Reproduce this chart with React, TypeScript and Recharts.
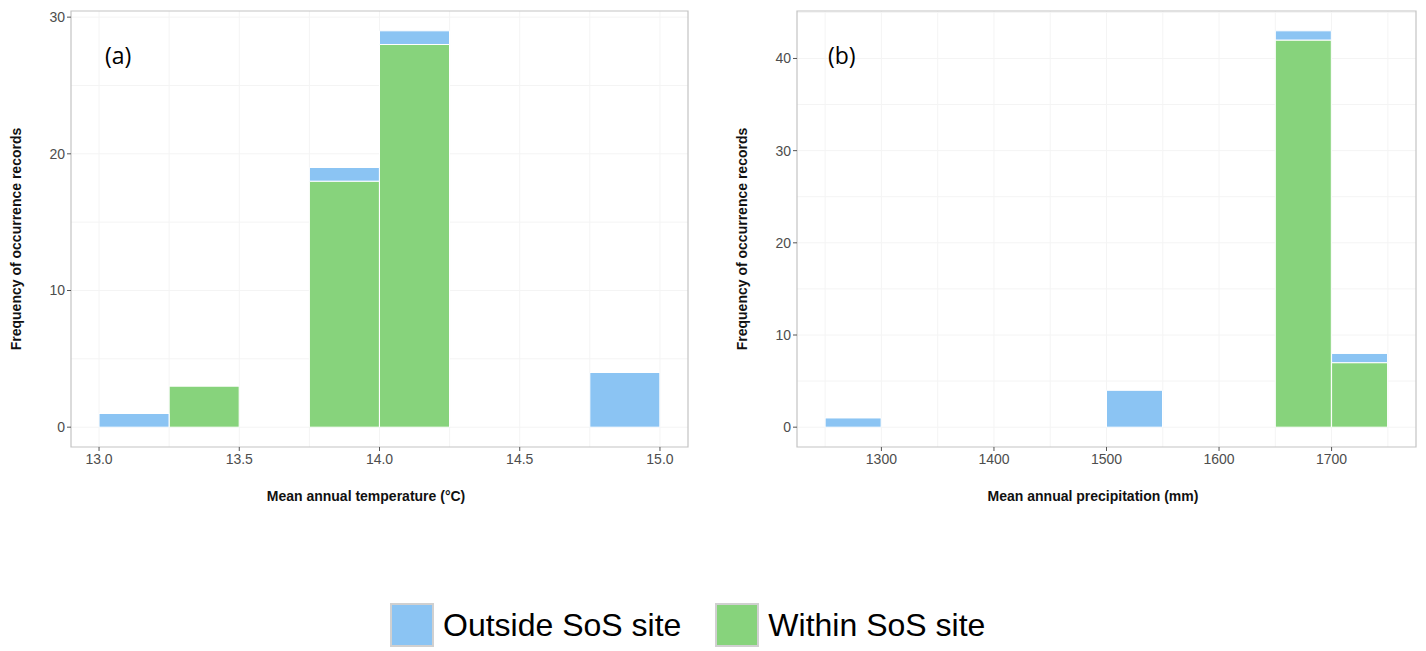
import * as React from 'react'
import { BarChart, Bar, XAxis, YAxis, CartesianGrid, ReferenceArea } from 'recharts'

// (a) temperature histogram, bin width 0.25 °C, values at bin centres
const tempBins = [13.125, 13.375, 13.625, 13.875, 14.125, 14.375, 14.625, 14.875]
const tempWithin = [0, 3, 0, 18, 28, 0, 0, 0]
const tempOutside = [1, 0, 0, 1, 1, 0, 0, 4]
const tempTicks = [13, 13.5, 14, 14.5, 15]
const tempCountTicks = [0, 10, 20, 30]

// (b) precipitation histogram, bin width 50 mm
const precBins = [1275, 1325, 1375, 1425, 1475, 1525, 1575, 1625, 1675, 1725]
const precWithin = [0, 0, 0, 0, 0, 0, 0, 0, 42, 7]
const precOutside = [1, 0, 0, 0, 0, 4, 0, 0, 1, 1]
const precTicks = [1300, 1400, 1500, 1600, 1700]
const precCountTicks = [0, 10, 20, 30, 40]

const BLUE = '#8BC4F3'
const GREEN = '#87D37C'
const FONT = '"Liberation Sans", Arial, sans-serif'

// major + minor grid positions, kept inside the panel
const withMinor = (ticks: number[], dom: [number, number]) => {
  const step = ticks[1] - ticks[0]
  const out: number[] = [ticks[0] - step / 2]
  ticks.forEach((t) => out.push(t, t + step / 2))
  return out.filter((v) => v > dom[0] && v < dom[1])
}

interface PanelProps {
  bins: number[]
  within: number[]
  outside: number[]
  xTicks: number[]
  yTicks: number[]
  xDomain: [number, number]
  yDomain: [number, number]
  digits: number
  width: number
  yAxisWidth: number
  marginRight: number
}

function Panel(p: PanelProps) {
  const data = p.bins.map((mid, i) => ({ mid, within: p.within[i], outside: p.outside[i] }))
  const tickStyle = { fontSize: 14, fill: '#4D4D4D', fontFamily: FONT }
  return (
    <BarChart
      width={p.width}
      height={520}
      data={data}
      margin={{ top: 11, right: p.marginRight, bottom: 0, left: 0 }}
      barCategoryGap={0}
      barGap={0}
    >
      <CartesianGrid
        stroke="#F4F4F4"
        verticalValues={withMinor(p.xTicks, p.xDomain)}
        horizontalValues={withMinor(p.yTicks, p.yDomain)}
      />
      <XAxis
        dataKey="mid"
        type="number"
        domain={p.xDomain}
        ticks={p.xTicks}
        allowDataOverflow
        height={73}
        axisLine={false}
        tickLine={{ stroke: '#555' }}
        tickSize={4}
        tickMargin={3}
        tick={tickStyle}
        tickFormatter={(v: number) => v.toFixed(p.digits)}
      />
      <YAxis
        type="number"
        domain={p.yDomain}
        ticks={p.yTicks}
        allowDataOverflow
        width={p.yAxisWidth}
        axisLine={false}
        tickLine={{ stroke: '#555' }}
        tickSize={4}
        tickMargin={2}
        tick={tickStyle}
      />
      <Bar dataKey="within" stackId="s" fill={GREEN} stroke="#fff" strokeWidth={1} isAnimationActive={false} />
      <Bar dataKey="outside" stackId="s" fill={BLUE} stroke="#fff" strokeWidth={1} isAnimationActive={false} />
      <ReferenceArea
        x1={p.xDomain[0]}
        x2={p.xDomain[1]}
        y1={p.yDomain[0]}
        y2={p.yDomain[1]}
        fill="none"
        stroke="#C4C4C4"
        strokeWidth={1.2}
        ifOverflow="visible"
      />
    </BarChart>
  )
}

const abs = (left: number, top: number): React.CSSProperties => ({ position: 'absolute', left, top })

export default function App() {
  const yTitle: React.CSSProperties = {
    position: 'absolute',
    width: 300,
    textAlign: 'center',
    fontFamily: FONT,
    fontWeight: 'bold',
    fontSize: 14,
    color: '#111',
    transform: 'rotate(-90deg)',
    whiteSpace: 'nowrap',
  }
  const xTitle: React.CSSProperties = {
    position: 'absolute',
    width: 300,
    textAlign: 'center',
    fontFamily: FONT,
    fontWeight: 'bold',
    fontSize: 14,
    color: '#111',
    whiteSpace: 'nowrap',
  }
  const tag: React.CSSProperties = { position: 'absolute', fontFamily: '"Open Sans", sans-serif', fontSize: 23, color: '#000' }
  const swatch = (c: string): React.CSSProperties => ({
    width: 40,
    height: 40,
    background: c,
    border: '2px solid #D0D0D0',
    boxSizing: 'content-box',
  })
  const legText: React.CSSProperties = { fontFamily: FONT, fontSize: 32, color: '#000', marginLeft: 9 }

  return (
    <div style={{ position: 'absolute', left: 0, top: 0, width: 1426, height: 651, background: '#fff' }}>
      <div style={abs(0, 0)}>
        <Panel
          bins={tempBins}
          within={tempWithin}
          outside={tempOutside}
          xTicks={tempTicks}
          yTicks={tempCountTicks}
          xDomain={[12.9, 15.1]}
          yDomain={[-1.45, 30.45]}
          digits={1}
          width={710}
          yAxisWidth={71}
          marginRight={22}
        />
      </div>
      <div style={abs(720, 0)}>
        <Panel
          bins={precBins}
          within={precWithin}
          outside={precOutside}
          xTicks={precTicks}
          yTicks={precCountTicks}
          xDomain={[1225, 1775]}
          yDomain={[-2.15, 45.15]}
          digits={0}
          width={706}
          yAxisWidth={77}
          marginRight={10}
        />
      </div>

      <div style={{ ...yTitle, left: 16 - 150, top: 231 }}>Frequency of occurrence records</div>
      <div style={{ ...yTitle, left: 742 - 150, top: 231 }}>Frequency of occurrence records</div>
      <div style={{ ...xTitle, left: 366 - 150, top: 488 }}>Mean annual temperature (°C)</div>
      <div style={{ ...xTitle, left: 1093 - 150, top: 488 }}>Mean annual precipitation (mm)</div>

      <div style={{ ...tag, left: 105, top: 39 }}>(a)</div>
      <div style={{ ...tag, left: 828, top: 39 }}>(b)</div>

      <div style={{ position: 'absolute', left: 390, top: 603, display: 'flex', alignItems: 'center' }}>
        <div style={swatch(BLUE)} />
        <span style={legText}>Outside SoS site</span>
        <div style={{ ...swatch(GREEN), marginLeft: 34 }} />
        <span style={legText}>Within SoS site</span>
      </div>
    </div>
  )
}
